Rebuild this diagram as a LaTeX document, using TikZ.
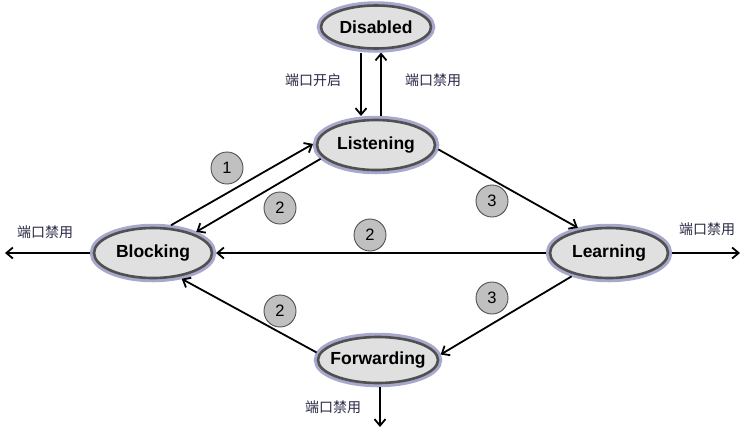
\documentclass[tikz,border=0pt]{standalone}
\usepackage{fontspec}
\setmainfont{Liberation Sans}
\newfontfamily\cjk{Noto Sans CJK SC}
\usetikzlibrary{shapes.geometric,arrows.meta,calc}
\definecolor{halo}{RGB}{168,168,204}
\definecolor{ring}{RGB}{80,80,80}
\definecolor{sfill}{RGB}{224,224,224}
\definecolor{cfill}{RGB}{192,192,192}
\definecolor{lbl}{RGB}{40,40,70}
\newcommand{\zw}[1]{\makebox[0pt]{#1}}
\tikzset{
  state/.style={ellipse, draw=ring, line width=2.6pt, fill=sfill,
    preaction={draw=halo, line width=8.5pt},
    minimum width=118pt, minimum height=50pt, inner sep=0pt, outer sep=4pt,
    font=\fontsize{17.5}{19}\selectfont\bfseries},
  num/.style={circle, draw=ring, line width=0.9pt, fill=cfill,
    minimum size=32pt, inner sep=0pt, font=\fontsize{16.5}{18}\selectfont},
  cn/.style={font=\cjk\fontsize{14}{16}\selectfont, text=lbl, inner sep=0pt},
  arr/.style={line width=1.8pt, -{Straight Barb[length=6.5pt,width=11pt,line width=1.8pt]}}
}
\begin{document}
\begin{tikzpicture}[x=1pt,y=-1pt]
\useasboundingbox (0,0) rectangle (741,429);
\node[state, minimum width=110pt, minimum height=43pt] (dis) at (376,27) {\zw{Disabled}};
\node[state] (lis) at (376,145) {\zw{Listening}};
\node[state] (blk) at (153,253) {\zw{Blocking}};
\node[state] (lrn) at (609,253) {\zw{Learning}};
\node[state, minimum width=120pt, minimum height=46pt] (fwd) at (378,360) {\zw{Forwarding}};

\draw[arr] ([xshift=-15pt]dis.south) -- ([xshift=-15pt]lis.north);
\draw[arr] ([xshift=5pt]lis.north) -- ([xshift=5pt]dis.south);
\node[cn] (l1) at (313,80) {端口开启};
\node[cn] (l2) at (433,80) {端口禁用};

\draw[arr] (blk.57) -- (lis.179);
\draw[arr] (lis.194) -- (blk.26);
\draw[arr] (lis.356) -- (lrn.141);
\draw[arr] (lrn.west) -- (blk.east);
\draw[arr] (lrn.212) -- (fwd.5);
\draw[arr] (fwd.173) -- (blk.318);

\coordinate (eL) at (5,253);
\coordinate (eR) at (740,253);
\coordinate (eD) at (380,427);
\draw[arr] (blk.west) -- (eL);
\draw[arr] (lrn.east) -- (eR);
\draw[arr] ([xshift=2pt]fwd.south) -- (eD);
\node[cn] (l3) at (45,232) {端口禁用};
\node[cn] (l4) at (707,229) {端口禁用};
\node[cn] (l5) at (333,407) {端口禁用};

\node[num] (n1) at (227,168) {1};
\node[num] (n2) at (280,208) {2};
\node[num] (n3) at (492,201) {3};
\node[num] (n4) at (370,235) {2};
\node[num] (n5) at (492,298) {3};
\node[num] (n6) at (280,311) {2};
\end{tikzpicture}
\end{document}
